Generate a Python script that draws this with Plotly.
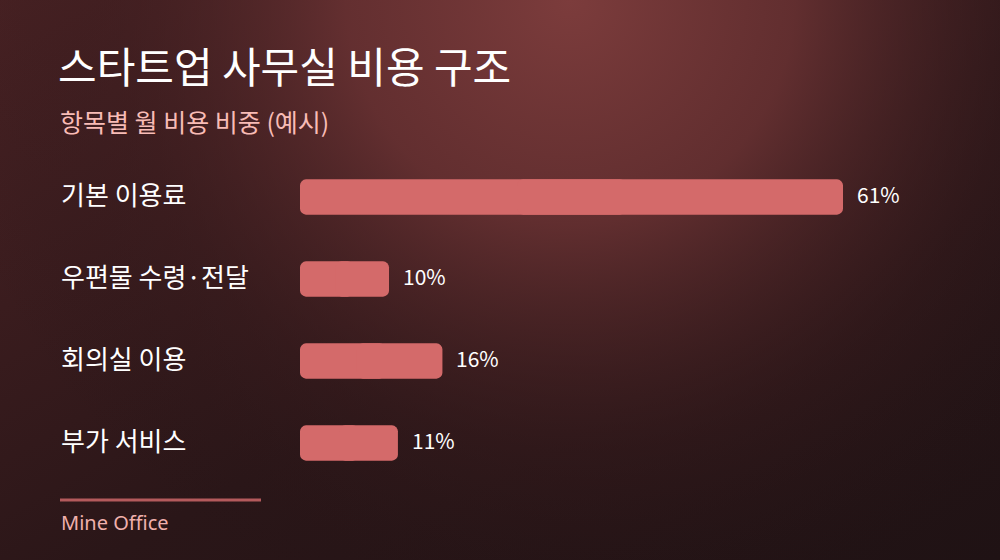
import base64
import plotly.graph_objects as go

categories = ["기본 이용료", "우편물 수령·전달", "회의실 이용", "부가 서비스"]
shares = [61, 10, 16, 11]
value_labels = ["61%", "10%", "16%", "11%"]

title = "스타트업 사무실 비용 구조"
subtitle = "항목별 월 비용 비중 (예시)"
source = "Mine Office"

W, H = 1000, 560
ML, MR, MT, MB = 300, 50, 156, 76
PW, PH = W - ML - MR, H - MT - MB
BAR = "#d46a6a"

# background: radial glow near the top over a dark wash
svg = f"""<svg xmlns='http://www.w3.org/2000/svg' width='{W}' height='{H}' viewBox='0 0 {W} {H}'>
<defs>
<linearGradient id='base' x1='0' y1='0' x2='1' y2='1'>
<stop offset='0' stop-color='#4a2224'/><stop offset='0.55' stop-color='#2a1618'/><stop offset='1' stop-color='#1f1214'/>
</linearGradient>
<radialGradient id='glow' gradientUnits='userSpaceOnUse' cx='570' cy='0' r='640'>
<stop offset='0' stop-color='#7c3c3c' stop-opacity='1'/>
<stop offset='0.35' stop-color='#6a3233' stop-opacity='0.85'/>
<stop offset='0.7' stop-color='#3c1d1f' stop-opacity='0.4'/>
<stop offset='1' stop-color='#231315' stop-opacity='0'/>
</radialGradient>
</defs>
<rect width='{W}' height='{H}' fill='url(#base)'/>
<rect width='{W}' height='{H}' fill='url(#glow)'/>
</svg>"""
bg = "data:image/svg+xml;base64," + base64.b64encode(svg.encode()).decode()


def px(x):
    return (x - ML) / PW


def py(y):
    return (H - MB - y) / PH


fig = go.Figure()
# plotly only rounds the far end of a bar: draw each bar as two overlapping
# pieces, one running back to zero (rounds the start) and one out to the value
fig.add_trace(go.Bar(x=[-v * 0.6 for v in shares], base=[v * 0.6 for v in shares],
                     y=categories, orientation="h",
                     marker=dict(color=BAR, line=dict(width=0)), hoverinfo="skip"))
fig.add_trace(go.Bar(x=[v * 0.6 for v in shares], base=[v * 0.4 for v in shares],
                     y=categories, orientation="h",
                     marker=dict(color=BAR, line=dict(width=0)), hoverinfo="skip"))

annotations = []
for c, v, lab in zip(categories, shares, value_labels):
    annotations.append(dict(x=px(59), xref="paper", y=c, yref="y", text=c,
                            xanchor="left", yanchor="middle", yshift=4, showarrow=False,
                            font=dict(size=26, color="#ffffff")))
    annotations.append(dict(x=v, xref="x", y=c, yref="y", text=lab,
                            xanchor="left", yanchor="middle", xshift=12, yshift=3,
                            showarrow=False, font=dict(size=21, color="#ffffff")))

annotations.append(dict(x=px(58), xref="paper", y=py(121), yref="paper", text=subtitle,
                        xanchor="left", yanchor="middle", showarrow=False,
                        font=dict(size=25, color="#f8bcb6")))
annotations.append(dict(x=px(59), xref="paper", y=py(522), yref="paper", text=source,
                        xanchor="left", yanchor="middle", showarrow=False,
                        font=dict(size=20, color="#f0b0ac", family="Noto Sans")))

fig.update_layout(
    width=W, height=H,
    margin=dict(l=ML, r=MR, t=MT, b=MB),
    paper_bgcolor="#231315",
    plot_bgcolor="rgba(0,0,0,0)",
    font=dict(family="Noto Sans CJK KR, Noto Sans, sans-serif", color="#ffffff"),
    title=dict(text=title, x=58 / W, xanchor="left", xref="container",
               y=1 - 68 / H, yanchor="middle", yref="container",
               font=dict(size=42, color="#ffffff")),
    xaxis=dict(range=[0, PW / (543 / 61)], visible=False, fixedrange=True),
    yaxis=dict(autorange="reversed", visible=False, fixedrange=True),
    barmode="overlay",
    bargap=0.57,
    barcornerradius=6,
    showlegend=False,
    annotations=annotations,
    shapes=[dict(type="line", xref="paper", yref="paper",
                 x0=px(60), x1=px(261), y0=py(500), y1=py(500),
                 line=dict(color="#b45a5c", width=3))],
    images=[dict(source=bg, xref="paper", yref="paper",
                 x=px(0), y=py(0), sizex=W / PW, sizey=H / PH,
                 xanchor="left", yanchor="top", sizing="stretch", layer="below")],
)

fig.write_html("out.html", config={"displayModeBar": False},
               post_script="document.body.style.margin='0';")
